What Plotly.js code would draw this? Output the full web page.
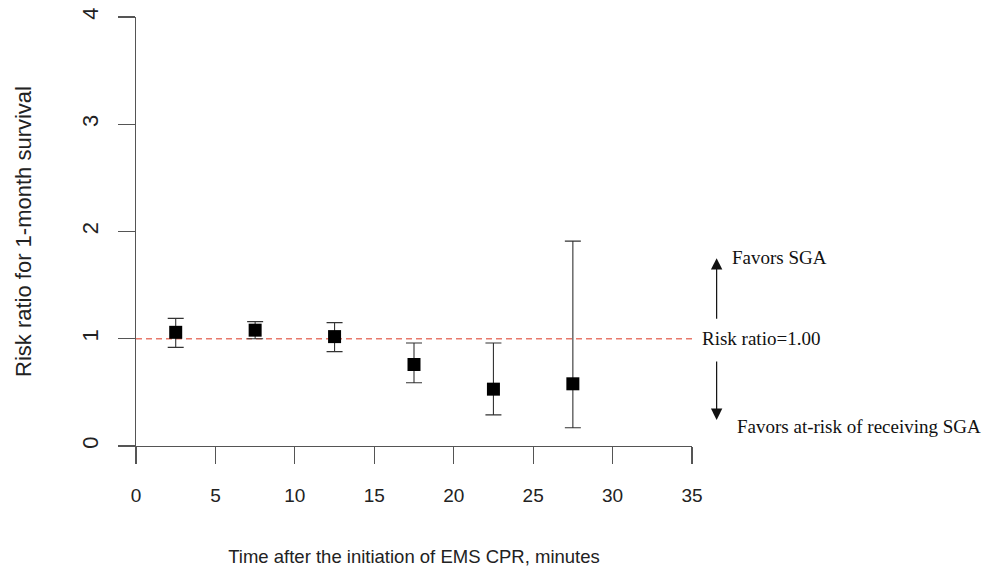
<!DOCTYPE html>
<html>
<head>
<meta charset="utf-8">
<script src="https://cdn.plot.ly/plotly-3.0.1.min.js"></script>
<style>html,body{margin:0;padding:0;background:#fff;}#chart{width:992px;height:572px;}</style>
</head>
<body>
<div id="chart"></div>
<script>
// Time interval midpoints (minutes after initiation of EMS CPR)
const timeMid = [2.5, 7.5, 12.5, 17.5, 22.5, 27.5];
// Risk ratio for 1-month survival with 95% CI
const riskRatio = [1.06, 1.08, 1.02, 0.76, 0.53, 0.58];
const ciLower   = [0.92, 1.00, 0.88, 0.59, 0.29, 0.17];
const ciUpper   = [1.19, 1.16, 1.15, 0.96, 0.96, 1.91];
// Reference line
const refX = [0, 35];
const refY = [1, 1];
const xTicks = [0, 5, 10, 15, 20, 25, 30, 35];
const yTicks = [0, 1, 2, 3, 4];
// Side notes
const noteTexts = ['Favors SGA', 'Risk ratio=1.00', 'Favors at-risk of receiving SGA'];

const errPlus = ciUpper.map((u, i) => u - riskRatio[i]);
const errMinus = ciLower.map((l, i) => riskRatio[i] - l);

const traces = [
  {
    x: refX, y: refY, type: 'scatter', mode: 'lines',
    line: {color: '#e8796b', width: 1.6, dash: '6px,4px'},
    hoverinfo: 'skip', showlegend: false, cliponaxis: false
  },
  {
    x: timeMid, y: riskRatio, type: 'scatter', mode: 'markers',
    marker: {symbol: 'square', size: 13, color: '#000'},
    error_y: {type: 'data', symmetric: false, array: errPlus, arrayminus: errMinus,
              color: '#333', thickness: 1.1, width: 8},
    showlegend: false, cliponaxis: false
  }
];

const serif = {family: 'Liberation Serif, Times New Roman, serif', size: 19, color: '#111'};

const layout = {
  width: 992, height: 572,
  paper_bgcolor: '#fff', plot_bgcolor: '#fff',
  margin: {l: 135.5, r: 300.3, t: 16.7, b: 126, pad: 0},
  showlegend: false,
  font: {family: 'Liberation Sans, Arial, sans-serif', color: '#222'},
  xaxis: {
    range: [0, 35], tickvals: xTicks, ticktext: xTicks.map(String),
    showgrid: false, zeroline: false,
    showline: true, linecolor: '#555', linewidth: 1.2,
    ticks: 'outside', ticklen: 17, tickwidth: 1.2, tickcolor: '#555',
    tickfont: {size: 19, color: '#222'}, ticklabelstandoff: 15,
    title: {text: 'Time after the initiation of EMS CPR, minutes', font: {size: 18.5, color: '#222'}, standoff: 45},
    automargin: false, fixedrange: true
  },
  yaxis: {
    range: [0, 4], tickvals: yTicks, ticktext: yTicks.map(String),
    showgrid: false, zeroline: false,
    showline: true, linecolor: '#555', linewidth: 1.2,
    ticks: 'outside', ticklen: 17, tickwidth: 1.2, tickcolor: '#555',
    tickangle: -90,
    tickfont: {size: 22, color: '#222'}, ticklabelstandoff: 11,
    title: {text: 'Risk ratio for 1-month survival', font: {size: 22, color: '#222'}, standoff: 40},
    automargin: false, fixedrange: true
  },
  annotations: [
    {x: 1.0443, y: 0.4379, xref: 'paper', yref: 'paper', ax: 0, ay: 62,
     text: '', showarrow: true, arrowhead: 2, arrowsize: 1.9, arrowwidth: 1.2, arrowcolor: '#111'},
    {x: 1.0443, y: 0.0606, xref: 'paper', yref: 'paper', ax: 0, ay: -60,
     text: '', showarrow: true, arrowhead: 2, arrowsize: 1.9, arrowwidth: 1.2, arrowcolor: '#111'},
    {x: 1.0689, y: 0.4403, xref: 'paper', yref: 'paper', text: noteTexts[0], showarrow: false,
     xanchor: 'left', yanchor: 'middle', font: serif},
    {x: 1.0149, y: 0.2496, xref: 'paper', yref: 'paper', text: noteTexts[1], showarrow: false,
     xanchor: 'left', yanchor: 'middle', font: serif},
    {x: 1.0779, y: 0.0449, xref: 'paper', yref: 'paper', text: noteTexts[2], showarrow: false,
     xanchor: 'left', yanchor: 'middle', font: serif}
  ]
};

Plotly.newPlot('chart', traces, layout, {staticPlot: true, displayModeBar: false});
</script>
</body>
</html>
